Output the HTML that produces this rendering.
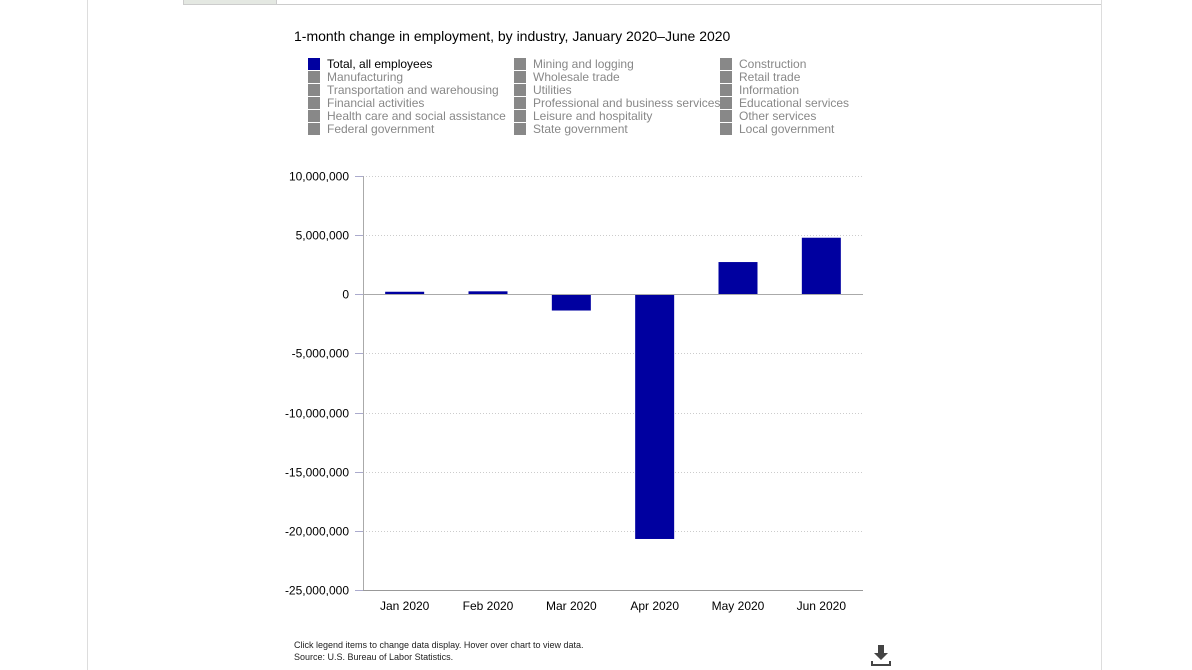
<!DOCTYPE html>
<html><head><meta charset="utf-8"><style>
body{margin:0;width:1192px;height:670px;background:#fff;position:relative;overflow:hidden;font-family:"Liberation Sans",sans-serif}
.abs{position:absolute}
.leg{position:absolute;font-size:12px;color:#888;line-height:13px;white-space:nowrap}
.leg span{display:inline-block;width:12px;height:12px;background:#888;vertical-align:top;margin-right:7px}
</style></head><body>
<div class="abs" style="left:87px;top:0;width:1px;height:670px;background:#ddd"></div>
<div class="abs" style="left:1101px;top:0;width:1px;height:670px;background:#ddd"></div>
<div class="abs" style="left:183px;top:4px;width:918px;height:1px;background:#ccc"></div>
<div class="abs" style="left:183px;top:0;width:92px;height:4px;background:#e4e8e2;border:1px solid #ccc;border-top:none"></div>
<div class="abs" style="left:294px;top:28px;font-size:14px;color:#000">1-month change in employment, by industry, January 2020–June 2020</div>
<div id="legend"></div>
<svg id="chart" class="abs" style="left:0;top:0" width="1192" height="670"></svg>
<div class="abs" style="left:294px;top:639px;font-size:9px;color:#222;line-height:12px">Click legend items to change data display. Hover over chart to view data.<br>Source: U.S. Bureau of Labor Statistics.</div>
<svg class="abs" style="left:871px;top:645px" width="20" height="22"><path d="M7 0h6v8h4l-7 7-7-7h4z" fill="#444"/><path d="M1 16v4h18v-4" stroke="#444" stroke-width="2" fill="none"/></svg>
<script>
const legendItems=[["Total, all employees","Mining and logging","Construction"],["Manufacturing","Wholesale trade","Retail trade"],["Transportation and warehousing","Utilities","Information"],["Financial activities","Professional and business services","Educational services"],["Health care and social assistance","Leisure and hospitality","Other services"],["Federal government","State government","Local government"]];
const categories=["Jan 2020","Feb 2020","Mar 2020","Apr 2020","May 2020","Jun 2020"];
const values=[214000,251000,-1373000,-20687000,2725000,4781000];
const ticks=[10000000,5000000,0,-5000000,-10000000,-15000000,-20000000,-25000000];
const tickLabels=["10,000,000","5,000,000","0","-5,000,000","-10,000,000","-15,000,000","-20,000,000","-25,000,000"];
const lg=document.getElementById('legend');
const colX=[308,514,720];
legendItems.forEach((row,r)=>row.forEach((t,c)=>{
 const d=document.createElement('div');d.className='leg';
 
 
 d.style.left=colX[c]+'px';d.style.top=(58+r*13)+'px';
 const first=r===0&&c===0;
 d.innerHTML='<span style="background:'+(first?'#0000a0':'#888')+'"></span>'+t;
 if(first)d.style.color='#000';
 lg.appendChild(d);
}));
const svg=document.getElementById('chart');const NS='http://www.w3.org/2000/svg';
const x0=363,x1=863,yTop=176,yBot=590,vMax=10000000,vMin=-25000000;
const y=v=>yTop+(vMax-v)/(vMax-vMin)*(yBot-yTop);
const bw=(x1-x0)/categories.length;
const xc=i=>x0+bw*(i+0.5);
function el(tag,a,name){const e=document.createElementNS(NS,tag);for(const k in a)e.setAttribute(k,a[k]);
 
 
 svg.appendChild(e);return e;}
ticks.forEach((t,i)=>{
 const yy=Math.round(y(t))+0.5;
 if(t!==0&&i!==ticks.length-1)el('line',{x1:x0,x2:x1,y1:yy,y2:yy,stroke:'#ccc','stroke-dasharray':'1,2'},'gridline');
 el('line',{x1:x0-8,x2:x0,y1:yy,y2:yy,stroke:'#aac'},'y-tick');
 const tx=el('text',{x:x0-14,y:yy+4,'text-anchor':'end','font-size':12,fill:'#000','font-family':'Liberation Sans'},'y-tick-label');tx.textContent=tickLabels[i];
});
values.forEach((v,i)=>{
 const a=y(Math.max(v,0)),b=y(Math.min(v,0));
 el('rect',{x:xc(i)-19.5,y:a,width:39,height:Math.max(b-a,1),fill:'#0000a0'},'bar-'+categories[i].toLowerCase().replace(' ','-'));
 const tx=el('text',{x:xc(i),y:610,'text-anchor':'middle','font-size':12,fill:'#000','font-family':'Liberation Sans'},'x-tick-label');tx.textContent=categories[i];
});
el('line',{x1:x0,x2:x1,y1:Math.round(y(0))+0.5,y2:Math.round(y(0))+0.5,stroke:'#aaa'},'zero-line');
el('line',{x1:x0+0.5,x2:x0+0.5,y1:yTop,y2:yBot,stroke:'#aaa'},'y-axis');
el('line',{x1:x0,x2:x1,y1:yBot+0.5,y2:yBot+0.5,stroke:'#999'},'x-axis');
</script>
</body></html>
